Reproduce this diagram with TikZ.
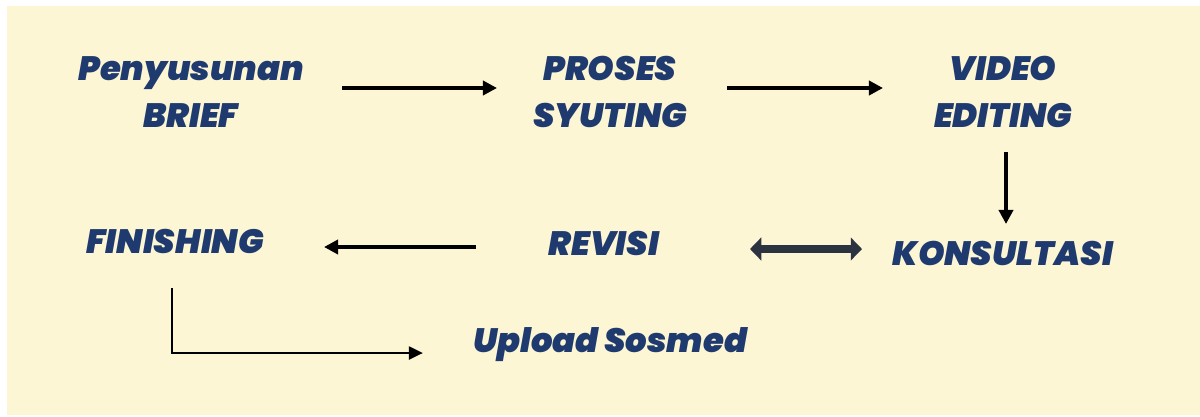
\documentclass[tikz,border=0pt]{standalone}
\usepackage{fontspec}
\newfontfamily\pb{Poppins}[UprightFont={* Black Italic}]
\usetikzlibrary{arrows.meta}
\definecolor{cream}{HTML}{FDF6D4}
\definecolor{navy}{HTML}{1F3A6E}
\definecolor{darkarr}{HTML}{2B3340}
\tikzset{
  lbl/.style={font=\pb\fontsize{24}{33}\selectfont, text=navy, align=center, inner sep=0pt},
  flow/.style={line width=2.6pt, -{Triangle[length=10pt,width=10pt]}},
  elbow/.style={line width=2.1pt, -{Triangle[length=10pt,width=9pt]}},
  dbl/.style={line width=6pt, darkarr, {Triangle[length=8pt,width=16pt]}-{Triangle[length=8pt,width=16pt]}}
}
\begin{document}
\begin{tikzpicture}[x=0.025cm,y=-0.025cm]
\useasboundingbox (0,0) rectangle (1200,416);
\fill[white] (0,0) rectangle (1200,416);
\fill[cream] (7,6) rectangle (1200,415);
\node[lbl] (brief) at (191,92) {Penyusunan\\BRIEF};
\node[lbl] (syut) at (610,92) {PROSES\\SYUTING};
\node[lbl] (edit) at (1003,92) {VIDEO\\EDITING};
\node[lbl] (kons) at (1003,253) {KONSULTASI};
\node[lbl] (rev) at (604,243) {REVISI};
\node[lbl] (fin) at (175,241) {FINISHING};
\node[lbl] (up) at (610,345) {Upload Sosmed};
\coordinate (a1s) at (342,88); \coordinate (a1e) at (497,88);
\coordinate (a2s) at (727,88); \coordinate (a2e) at (883,88);
\draw[flow] (a1s) -- (a1e);
\draw[flow] (a2s) -- (a2e);
\coordinate (d1s) at (1006,152); \coordinate (d1e) at (1006,224);
\draw[flow] (d1s) -- (d1e);
\coordinate (b1s) at (750,249); \coordinate (b1e) at (862,249);
\draw[dbl] (b1s) -- (b1e);
\coordinate (l1s) at (476,247); \coordinate (l1e) at (324,247);
\draw[flow] (l1s) -- (l1e);
\coordinate (e1s) at (172,288); \coordinate (e1c) at (172,353); \coordinate (e1e) at (423,353);
\draw[elbow] (e1s) -- (e1c) -- (e1e);
\end{tikzpicture}
\end{document}
